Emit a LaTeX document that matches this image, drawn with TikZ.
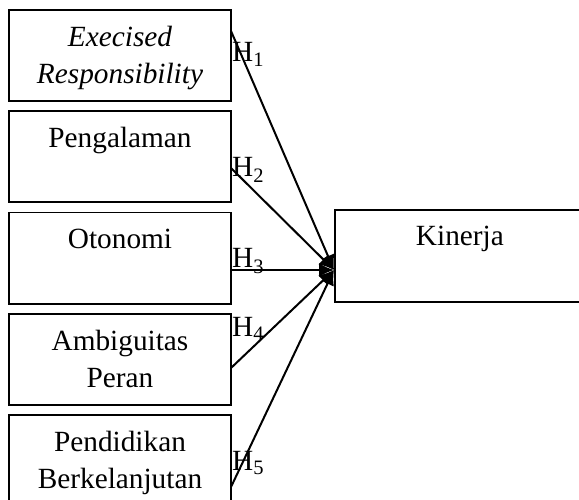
\documentclass[tikz,border=0pt]{standalone}
\usepackage{fontspec}
\setmainfont{Liberation Serif}
\usetikzlibrary{positioning,calc,arrows.meta}
\tikzset{
  var/.style={rectangle,draw,line width=1.8pt,minimum width=222pt,minimum height=91pt,inner sep=0pt},
  lbl/.style={align=center,inner sep=0pt,font=\fontsize{29.3}{37}\selectfont},
  hyp/.style={anchor=base west,inner sep=0pt,font=\fontsize{29.3}{37}\selectfont},
  link/.style={line width=2pt,-{Latex[length=15pt,width=14pt]}}
}
\begin{document}
\begin{tikzpicture}[node distance=8.5pt, x=1pt, y=1pt]
    \clip (0,0) rectangle (579,-500);
    \node(b1)[var] at (120,-55.5) {};
    \node(b2)[var, below=of b1] {};
    \node(b3)[var, below=of b2] {};
    \node(b4)[var, below=of b3] {};
    \node(b5)[var, below=of b4] {};
    \node(kin)[var, minimum width=250pt, minimum height=92pt, anchor=west] at (334,-256) {};

    \node(t1)[lbl, below=17pt of b1.north] {\itshape Execised\\\itshape Responsibility};
    \node(t2)[lbl, below=17pt of b2.north] {Pengalaman};
    \node(t3)[lbl, below=17pt of b3.north] {Otonomi};
    \node(t4)[lbl, below=17pt of b4.north] {Ambiguitas\\Peran};
    \node(t5)[lbl, below=17pt of b5.north] {Pendidikan\\Berkelanjutan};
    \node(tk)[lbl, below=17pt of kin.north] {Kinerja};

    % start points on the right sides, end point on Kinerja
    \coordinate (s1) at (231,-31);
    \coordinate (s2) at (231,-168);
    \coordinate (s3) at (231,-270);
    \coordinate (s4) at (231,-368);
    \coordinate (s5) at (231,-487);
    \coordinate (k) at (334,-270);

    \node(h1)[hyp] at (232,-62) {H\textsubscript{1}};
    \node(h2)[hyp] at (232,-177) {H\textsubscript{2}};
    \node(h3)[hyp] at (232,-268) {H\textsubscript{3}};
    \node(h4)[hyp] at (232,-336) {H\textsubscript{4}};
    \node(h5)[hyp] at (232,-470) {H\textsubscript{5}};

    \foreach \s in {s1,s2,s3,s4,s5}
      \draw[link] (\s) -- (k);
\end{tikzpicture}
\end{document}
